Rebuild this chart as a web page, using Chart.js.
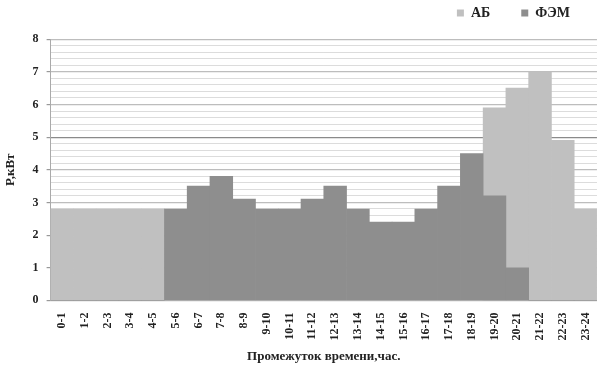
<!DOCTYPE html>
<html>
<head>
<meta charset="utf-8">
<script src="https://cdn.jsdelivr.net/npm/chart.js@4"></script>
<style>
  html, body { margin: 0; padding: 0; background: #fff; }
  #wrap { width: 602px; height: 374px; }
</style>
</head>
<body>
<div id="wrap"><canvas id="chart"></canvas></div>
<script>
const hours = ["0-1", "1-2", "2-3", "3-4", "4-5", "5-6", "6-7", "7-8", "8-9", "9-10", "10-11", "11-12",
  "12-13", "13-14", "14-15", "15-16", "16-17", "17-18", "18-19", "19-20", "20-21", "21-22", "22-23", "23-24"];
// АБ - аккумуляторная батарея
const ab = [2.8, 2.8, 2.8, 2.8, 2.8, 0, 0, 0, 0, 0, 0, 0, 0, 0, 0, 0, 0, 0, 0, 5.9, 6.5, 7.0, 4.9, 2.8];
// ФЭМ
const fem = [0, 0, 0, 0, 0, 2.8, 3.5, 3.8, 3.1, 2.8, 2.8, 3.1, 3.5, 2.8, 2.4, 2.4, 2.8, 3.5, 4.5, 3.2, 1.0, 0, 0, 0];

const serif = "'Liberation Serif', 'Times New Roman', serif";
const isMajor = (v) => Math.abs(v - Math.round(v)) < 1e-6;

const ctx = document.getElementById("chart").getContext("2d");
new Chart(ctx, {
  type: "bar",
  data: {
    labels: hours,
    datasets: [
      // ФЭМ first so it is drawn over АБ
      { label: "ФЭМ", data: fem, backgroundColor: "#8e8e8e", barPercentage: 1, categoryPercentage: 1 },
      { label: "АБ", data: ab, backgroundColor: "#c0c0c0", barPercentage: 1, categoryPercentage: 1 },
    ],
  },
  options: {
    responsive: true,
    maintainAspectRatio: false,
    animation: false,
    // negative top so the wide-spaced legend sits near the top edge
    layout: { padding: { left: 3, right: 1, top: -25, bottom: 10 } },
    plugins: {
      legend: {
        position: "top",
        align: "end",
        reverse: true,
        labels: {
          boxWidth: 7,
          boxHeight: 7,
          padding: 31,
          color: "#222",
          font: { family: serif, size: 14, weight: "bold" },
        },
      },
      // empty title, only used as a spacer between legend and plot
      title: {
        display: true,
        text: "",
        weight: 500,
        font: { size: 1 },
        padding: { top: 0, bottom: 8 },
      },
      tooltip: { enabled: false },
    },
    scales: {
      x: {
        stacked: true,
        grid: { display: true, drawOnChartArea: false, tickLength: 10, tickColor: "rgba(0,0,0,0)" },
        border: { color: "#aaa" },
        ticks: {
          minRotation: 90,
          maxRotation: 90,
          autoSkip: false,
          padding: 2,
          color: "#222",
          font: { family: serif, size: 12, weight: "bold" },
        },
        title: {
          display: true,
          text: "Промежуток времени,час.",
          color: "#222",
          font: { family: serif, size: 13, weight: "bold" },
          padding: { top: 6, bottom: 0 },
        },
      },
      y: {
        stacked: false,
        min: 0,
        max: 8,
        border: { color: "#aaa" },
        grid: {
          color: (c) => {
            if (!c.tick) return "#ddd";
            if (c.tick.value === 5) return "#8a8a8a";
            return isMajor(c.tick.value) ? "#bdbdbd" : "#dcdcdc";
          },
          lineWidth: (c) => (c.tick && isMajor(c.tick.value) ? 1.2 : 1),
          tickLength: 4,
          tickColor: (c) => (c.tick && isMajor(c.tick.value) ? "#999" : "rgba(0,0,0,0)"),
        },
        ticks: {
          stepSize: 0.2,
          autoSkip: false,
          color: "#222",
          padding: 8,
          font: { family: serif, size: 12, weight: "bold" },
          callback: (v) => (isMajor(v) ? Math.round(v) : ""),
        },
        title: {
          display: true,
          text: "P,кВт",
          color: "#222",
          font: { family: serif, size: 13, weight: "bold" },
          padding: { top: 0, bottom: 6 },
        },
      },
    },
  },
});
</script>
</body>
</html>
